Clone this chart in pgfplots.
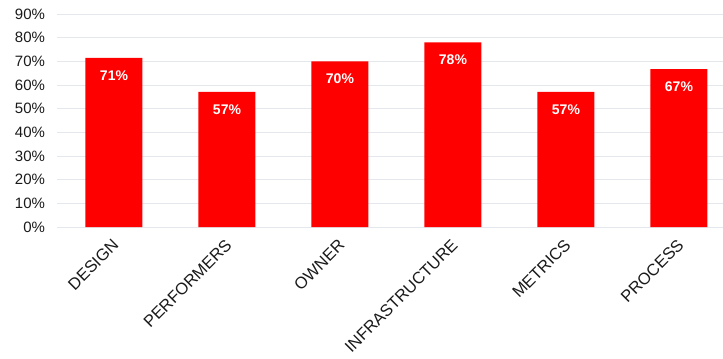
\documentclass[border=0pt]{standalone}
\usepackage{pgfplots}
\pgfplotsset{compat=1.18}
\usepackage{fontspec}
\setmainfont{Liberation Sans}
\definecolor{barred}{HTML}{FF0000}
\definecolor{gridc}{HTML}{E4E7EC}
\definecolor{txt}{HTML}{1A1A1A}
\begin{document}
\begin{tikzpicture}
\begin{axis}[
  scale only axis,
  width=665.5bp, height=213bp,
  xmin=-0.5, xmax=5.39,
  ymin=0, ymax=90,
  ytick={0,10,...,90},
  yticklabel={\pgfmathprintnumber{\tick}\%},
  /pgf/number format/assume math mode=true,
  ymajorgrids,
  grid style={gridc, line width=0.8pt},
  axis x line*=bottom,
  axis y line*=left,
  y axis line style={draw=none},
  x axis line style={gridc, line width=0.8pt},
  xtick={0,1,2,3,4,5},
  xticklabels={DESIGN,PERFORMERS,OWNER,INFRASTRUCTURE,METRICS,PROCESS},
  major tick length=0pt,
  xticklabel style={rotate=45, anchor=north east, font=\fontsize{16.5bp}{18bp}\selectfont, text=txt, inner sep=1pt, yshift=-5bp, xshift=-8.5bp},
  yticklabel style={font=\fontsize{15bp}{17bp}\selectfont, text=txt, xshift=-9bp},
  ybar, bar width=57bp,
  clip=false,
]
\addplot[fill=barred, draw=none,
  nodes near coords={\pgfmathprintnumber[fixed,precision=0]{\pgfplotspointmeta}\%},
  nodes near coords style={anchor=north, yshift=-9bp, text=white, font=\bfseries\fontsize{14bp}{16bp}\selectfont},
  point meta=explicit]
 coordinates {(0,71.43) [71] (1,57.14) [57] (2,70) [70] (3,78) [78] (4,57.14) [57] (5,66.67) [67]};
\end{axis}
\pgfresetboundingbox
\path[use as bounding box] ([shift={(-57.5bp,-131bp)}]current axis.south west) rectangle ([shift={(0bp,14bp)}]current axis.north east);
\end{tikzpicture}
\end{document}
